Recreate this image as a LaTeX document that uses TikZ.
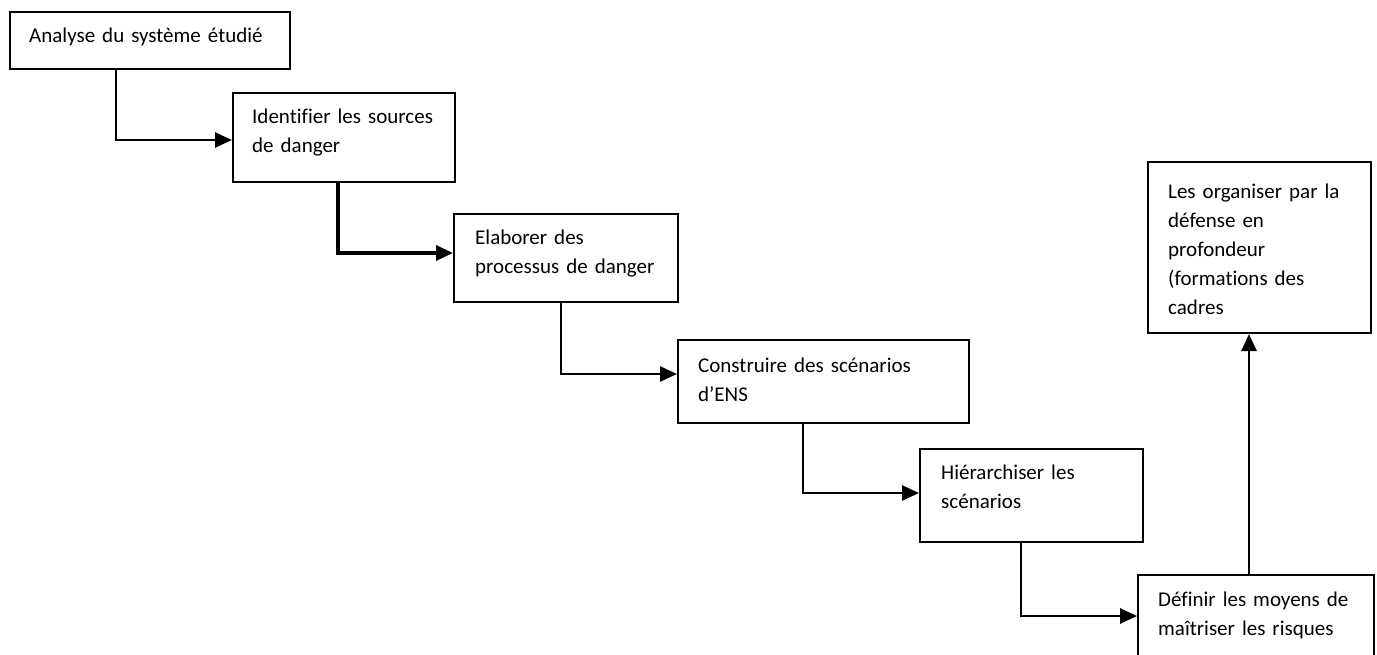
\documentclass[tikz,border=0pt]{standalone}
\usepackage{fontspec}
\setmainfont{Carlito}[Ligatures=NoCommon]
\usetikzlibrary{calc,arrows.meta}
\begin{document}
\begin{tikzpicture}[x=1pt,y=-1pt,
  box/.style={draw=black, line width=2pt, rectangle, inner sep=0pt, anchor=north west},
  txt/.style={anchor=base west, inner sep=0pt, align=left, text width=#1,
              font=\fontsize{21}{29}\selectfont},
  conn/.style={draw=black, line width=2.7pt,
               -{Triangle[length=17pt,width=15pt]}}]
  \fill[white] (0,0) rectangle (1377,655);
  \useasboundingbox (0,0) rectangle (1377,655);

  % process steps
  \node[box, minimum width=280pt, minimum height=57pt]  (b1) at (9,11) {};
  \node[box, minimum width=222pt, minimum height=89pt]  (b2) at (232,92) {};
  \node[box, minimum width=224pt, minimum height=88pt]  (b3) at (453,213) {};
  \node[box, minimum width=291pt, minimum height=83pt]  (b4) at (677,339) {};
  \node[box, minimum width=223pt, minimum height=93pt]  (b5) at (919,448) {};
  \node[box, minimum width=236pt, minimum height=100pt] (b6) at (1137,574) {};
  \node[box, minimum width=223pt, minimum height=171pt] (b7) at (1147,161) {};

  % box texts
  \node[txt=260pt] (t1) at ($(b1.north west)+(20,32)$) {Analyse du système étudié};
  \node[txt=200pt] (t2) at ($(b2.north west)+(20,32)$) {Identifier les sources\\de danger};
  \node[txt=210pt] (t3) at ($(b3.north west)+(22,32)$) {Elaborer des\\processus de danger};
  \node[txt=270pt] (t4) at ($(b4.north west)+(21,33)$) {Construire des scénarios\\d’ENS};
  \node[txt=200pt] (t5) at ($(b5.north west)+(22,31)$) {Hiérarchiser les\\scénarios};
  \node[txt=215pt] (t6) at ($(b6.north west)+(21,32)$) {Définir les moyens de\\maîtriser les risques};
  \node[txt=200pt] (t7) at ($(b7.north west)+(21,38)$) {Les organiser par la\\défense en\\profondeur\\(formations des\\cadres};

  % elbow positions of the connectors
  \coordinate (e1) at (116,140);
  \coordinate (e2) at (338,253);
  \coordinate (e3) at (561,374);
  \coordinate (e4) at (803,493);
  \coordinate (e5) at (1021,616);
  \coordinate (e6) at (1249,0);

  \draw[conn] (b1.south -| e1) |- (b2.west |- e1);
  \draw[conn, line width=3.4pt] (b2.south -| e2) |- (b3.west |- e2);
  \draw[conn] (b3.south -| e3) |- (b4.west |- e3);
  \draw[conn] (b4.south -| e4) |- (b5.west |- e4);
  \draw[conn] (b5.south -| e5) |- (b6.west |- e5);
  \draw[conn] (b6.north -| e6) -- (b7.south -| e6);
\end{tikzpicture}
\end{document}
